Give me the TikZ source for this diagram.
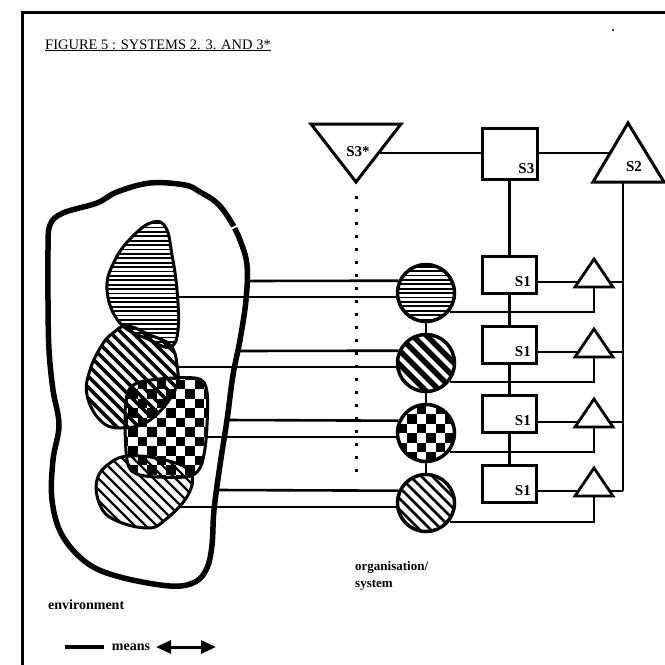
\documentclass[tikz,border=0pt]{standalone}
\usepackage{fontspec}
\setmainfont{Liberation Serif}
\usetikzlibrary{arrows.meta,calc}
\begin{document}
\begin{tikzpicture}[x=1pt,y=-1pt,
  conn/.style={line width=2.6pt},
  boxs/.style={draw,line width=3pt,rectangle,minimum width=54pt,minimum height=37pt,inner sep=0pt},
  lab/.style={font=\fontsize{15}{15}\selectfont\bfseries,inner sep=0pt},
  org/.style={circle,draw,line width=3.5pt,minimum size=57pt,inner sep=0pt},
  blob/.style={draw,line width=3pt},
  hatchH/.style={path picture={\foreach \n in {-40,...,40} \draw[line width=1.8pt] ($(path picture bounding box.center)+(-90,\n*4.4)$) -- ++(180,0);}},
  hatchD/.style 2 args={path picture={\foreach \n in {-16,...,16} \draw[line width=#2] ($(path picture bounding box.center)+(\n*#1-90,-90)$) -- ++(180,180);}},
  hatchC/.style={path picture={\foreach \i in {-8,...,7}{\foreach \j in {-8,...,7}{\pgfmathtruncatemacro\chk{mod(\i+\j+16,2)}\ifnum\chk=0 \fill ($(path picture bounding box.center)+(\i*9.5,\j*9.5)$) rectangle ++(9.5,9.5);\fi}}}},
  txt/.style={font=\fontsize{13}{17}\selectfont\bfseries,inner sep=0pt}
]
\useasboundingbox (0,0) rectangle (665,665);
% frame
\draw[line width=3pt] (22,668) -- (22,12) -- (668,12);
\fill (613,30) circle (1.2);
\node[anchor=base west,inner sep=0pt,font=\fontsize{14.5}{15}\selectfont] (title) at (45,49) {\underline{FIGURE 5 : SYSTEMS 2. 3. AND 3*}};

% environment
\draw[line width=5.5pt] plot[smooth cycle,tension=0.6] coordinates {
 (50,225) (63,213) (97,203) (117,192) (150,183) (185,185) (200,192) (217,203) (230,220) (240,240) (247,265) (246,300) (240,340) (233,375) (227,420) (220,465) (214,510) (212,545) (207,568) (195,582) (170,586) (120,577) (87,563) (62,535) (52,500) (53,460) (59,425) (53,390) (49,350) (48,300) (48,250)};
\draw[white,line width=2pt] (226,231) -- (239,225);

% inner blobs
\path[blob,hatchD={11}{3.5pt}] plot[smooth cycle,tension=0.7] coordinates {
 (113,333) (127,326) (150,335) (170,345) (177,365) (175,390) (150,420) (120,428) (100,420) (87,395) (90,370) (102,345)};
\path[blob,hatchH] plot[smooth cycle,tension=0.7] coordinates {
 (153,222) (166,228) (172,255) (177,290) (178,330) (170,347) (150,340) (120,323) (107,290) (115,260) (133,236)};
\path[blob,hatchD={11}{2.2pt}] plot[smooth cycle,tension=0.7] coordinates {
 (97,480) (110,463) (130,456) (165,460) (190,472) (188,495) (165,520) (147,528) (115,520) (100,505)};
\path[blob,hatchC] plot[smooth cycle,tension=0.5] coordinates {
 (140,382) (195,378) (207,392) (206,440) (200,468) (185,477) (140,475) (127,460) (126,400)};

% connection points on environment
\coordinate (e1) at (246,281);
\coordinate (e2) at (238,351);
\coordinate (e3) at (227,420);
\coordinate (e4) at (217,490);
\coordinate (b1) at (177,297);
\coordinate (b2) at (177,367);
\coordinate (b3) at (205,437);
\coordinate (b4) at (178,507);

% organisation circles
\node[org,hatchH] (c1) at (426,293) {};
\node[org,hatchD={14}{5.5pt}] (c2) at (426,363) {};
\node[org,hatchC] (c3) at (426,433) {};
\node[org,hatchD={11}{2.6pt}] (c4) at (426,503) {};
\draw[conn] (c1) -- (c2);
\draw[conn] (c2) -- (c3);
\draw[conn] (c3) -- (c4);

% environment to circle lines
\foreach \i in {1,2,3,4}{
  \draw[conn] (e\i) -- (c\i.156);
  \draw[conn] (b\i) -- (b\i -| c\i.west);
}

% S3*
\coordinate (t3a) at (311,124);
\coordinate (t3b) at (401,124);
\coordinate (t3c) at (356,182);
\draw[line width=3pt,line join=miter] (t3a) -- (t3b) -- (t3c) -- cycle;
\node[lab] (s3star) at (358,152) {S3*};
\coordinate (dtop) at (356,196);
\coordinate (dbot) at (356,482);
\draw[line width=3pt,dash pattern=on 3pt off 10pt] (dtop) -- (dbot);

% S3
\node[boxs,minimum width=55pt,minimum height=51pt] (s3) at (509.5,153.5) {};
\node[lab,anchor=south east] (s3l) at ($(s3.south east)+(-4,-7)$) {S3};
\coordinate (t3r) at (378,153);
\draw[conn] (t3r) -- (s3.west |- t3r);

% S2
\coordinate (t2a) at (628,123);
\coordinate (t2l) at (593,182);
\coordinate (t2r) at (664,182);
\draw[line width=3pt,line join=miter] (t2a) -- (t2l) -- (t2r) -- cycle;
\node[lab] (s2l) at (634,167) {S2};
\coordinate (s2in) at (610,153);
\draw[conn] (s3.east |- s2in) -- (s2in);
\coordinate (s2b) at (623,182);

% S1 boxes and small triangles
\foreach \i/\y in {1/274.5,2/344.5,3/414,4/483.5}{
  \node[boxs] (s1\i) at (509.5,\y) {};
  \node[lab,anchor=south east] at ($(s1\i.south east)+(-7,-8)$) {S1};
}
\draw[conn] (s3.south) -- (s11.north);
\draw[conn] (s11.south) -- (s12.north);
\draw[conn] (s12.south) -- (s13.north);
\draw[conn] (s13.south) -- (s14.north);

\foreach \i/\b/\f in {1/287/312,2/357/382,3/427/452,4/496/522}{
  \coordinate (ta\i) at (594,\b-28);
  \coordinate (tl\i) at (575,\b);
  \coordinate (tr\i) at (613,\b);
  \coordinate (tb\i) at (594,\b);
  \draw[line width=2.8pt,line join=miter] (ta\i) -- (tl\i) -- (tr\i) -- cycle;
  \coordinate (in\i) at (578,\b-5);
  \coordinate (out\i) at (610,\b-5);
  \coordinate (bus\i) at (623,\b-5);
  \coordinate (fb\i) at (594,\f);
  \draw[conn] (s1\i.east |- in\i) -- (in\i);
  \draw[conn] (out\i) -- (bus\i);
  \draw[conn] (tb\i) -- (fb\i) -- (fb\i -| c\i.-39);
}
\draw[conn] (s2b) -- (bus4);

% labels
\node[txt,anchor=north west,align=left] (orgl) at (355,561) {organisation/\\system};
\node[txt,font=\fontsize{14}{16}\selectfont\bfseries,anchor=west] (envl) at (48,605) {environment};
\coordinate (ml1) at (65,647);
\coordinate (ml2) at (104,647);
\draw[line width=4pt] (ml1) -- (ml2);
\node[txt,font=\fontsize{14}{16}\selectfont\bfseries] (means) at (131,647) {means};
\coordinate (ar1) at (156,647);
\coordinate (ar2) at (216,647);
\draw[line width=3pt,{Triangle[length=15pt,width=13pt]}-{Triangle[length=15pt,width=13pt]}] (ar1) -- (ar2);
\end{tikzpicture}
\end{document}
